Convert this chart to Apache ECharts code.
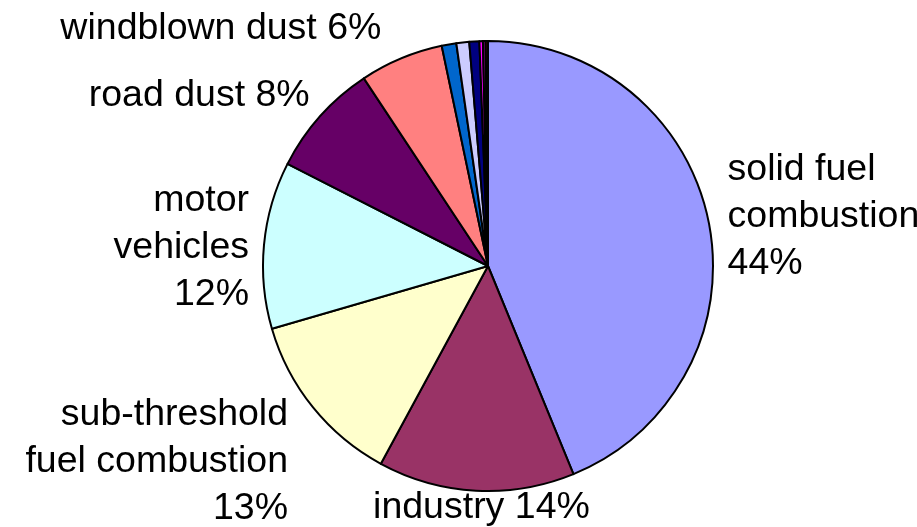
<!DOCTYPE html>
<html>
<head>
<meta charset="utf-8">
<script src="https://cdn.jsdelivr.net/npm/echarts@6/dist/echarts.min.js"></script>
<style>
    html, body { margin: 0; padding: 0; background: #fff; }
    #chart { width: 917px; height: 527px; }
</style>
</head>
<body>
<div id="chart"></div>
<script>
// sources, clockwise from 12 o'clock
var sources = ['solid fuel combustion', 'industry', 'sub-threshold fuel combustion', 'motor vehicles',
    'road dust', 'windblown dust', 'other 1', 'other 2', 'other 3', 'other 4', 'other 5', 'other 6']
var labelText = ['solid fuel\ncombustion\n', 'industry ', 'sub-threshold\nfuel combustion\n', 'motor\nvehicles\n',
    'road dust ', 'windblown dust ', '', '', '', '', '', '']
var shares = [43.8, 14.1, 12.6, 12.0, 8.2, 6.0, 1.05, 0.92, 0.72, 0.25, 0.2, 0.16]

var colors = ['#9999ff', '#993366', '#ffffcc', '#ccffff', '#660066', '#ff8080',
    '#0066cc', '#ccccff', '#000080', '#ff00ff', '#800080', '#800000']

// small label nudges [dx, dy, align]
var nudge = [
    [4, -4, null],
    [11, 7, 'center'],
    [-12, 48, null],
    [0, 4, null],
    [2, -14, null],
    [-11, -21, null]
]

var data = shares.map(function (v, i) {
    return {
        name: sources[i],
        value: v,
        itemStyle: { color: colors[i] },
        label: { show: i < 6 }
    }
})

var myChart = echarts.init(document.getElementById('chart'))
myChart.setOption({
    animation: false,
    series: [{
        type: 'pie',
        center: [488, 266],
        radius: 225,
        startAngle: 90,
        clockwise: true,
        avoidLabelOverlap: false,
        itemStyle: { borderColor: '#000', borderWidth: 2 },
        label: {
            position: 'outside',
            fontFamily: 'Liberation Sans, Arial, sans-serif',
            fontSize: 37.5,
            lineHeight: 47,
            color: '#000',
            formatter: function (p) {
                return labelText[p.dataIndex] + Math.round(p.percent) + '%'
            }
        },
        labelLine: { show: false, length: 10, length2: 0 },
        labelLayout: function (p) {
            var n = nudge[p.dataIndex]
            if (!n) return {}
            var out = { dx: n[0], dy: n[1] }
            if (n[2]) out.align = n[2]
            return out
        },
        emphasis: { disabled: true },
        data: data
    }]
})
</script>
</body>
</html>
